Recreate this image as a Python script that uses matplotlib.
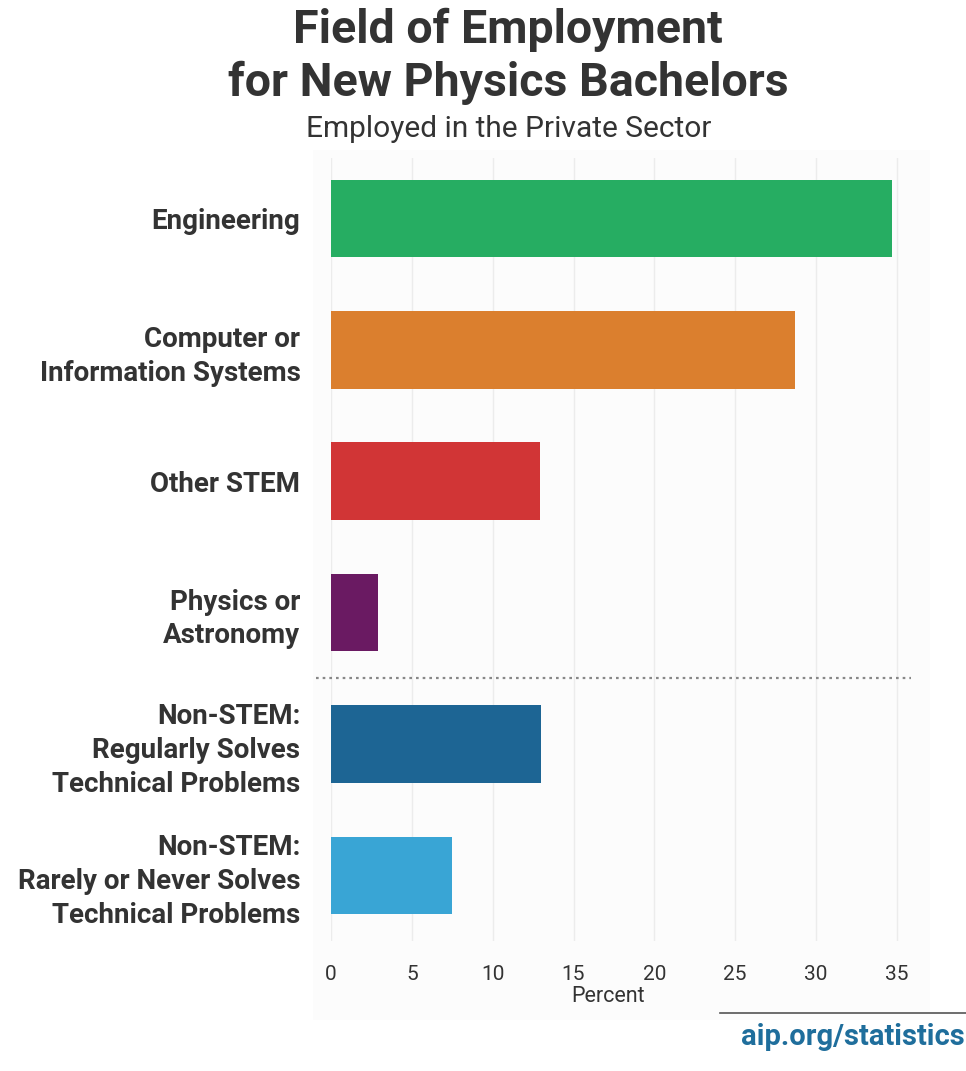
import matplotlib
matplotlib.use("Agg")
import matplotlib.pyplot as plt
from matplotlib.patches import Rectangle
from matplotlib.lines import Line2D

categories = [
    "Engineering",
    "Computer or\nInformation Systems",
    "Other STEM",
    "Physics or\nAstronomy",
    "Non-STEM:\nRegularly Solves\nTechnical Problems",
    "Non-STEM:\nRarely or Never Solves\nTechnical Problems",
]
percent = [34.7, 28.7, 12.9, 2.9, 13.0, 7.5]
bar_colors = ["#26ad62", "#db7f2e", "#d13536", "#6a1a62", "#1d6594", "#39a5d5"]
x_ticks = [0, 5, 10, 15, 20, 25, 30, 35]

plt.rcParams["font.family"] = ["Roboto", "DejaVu Sans"]
TEXT = "#333333"

W, H = 966, 1071
fig = plt.figure(figsize=(W / 100, H / 100), dpi=100)
fig.patch.set_facecolor("white")

# faint panel behind the plotting area
fig.patches.append(Rectangle((313 / W, 1 - 1020 / H), (930 - 313) / W, (1020 - 150) / H,
                             transform=fig.transFigure, facecolor="#fcfcfc",
                             edgecolor="none", zorder=-5))

left, right = 331, 913
top, bottom = 158, 941
ax = fig.add_axes([left / W, 1 - bottom / H, (right - left) / W, (bottom - top) / H])
ax.set_facecolor("none")
ax.set_zorder(2)

y = list(range(len(categories)))
ax.barh(y, percent, height=0.59, color=bar_colors, zorder=3)

ax.set_xlim(0, 36)
ax.set_ylim(5.5, -0.46)
ax.set_xticks(x_ticks)
ax.set_xticklabels([str(t) for t in x_ticks], fontsize=15, color=TEXT)
ax.set_yticks(y)
ax.set_yticklabels(categories, fontsize=20, fontweight="bold", color=TEXT,
                   linespacing=1.32)
ax.tick_params(axis="both", length=0)
ax.tick_params(axis="x", pad=17)
ax.tick_params(axis="y", pad=22)
ax.xaxis.grid(True, color="#ececec", linewidth=1, zorder=0)
for s in ax.spines.values():
    s.set_visible(False)
ax.set_xlabel("Percent", fontsize=15.5, color=TEXT)
ax.xaxis.set_label_coords((608 - left) / (right - left), -0.058)

# separator between STEM and non-STEM fields
ax.plot([-0.95, 35.9], [3.5, 3.5], linestyle=(0, (1.2, 1.8)), color="#888888",
        linewidth=1.6, clip_on=False, zorder=2)

# titles
fig.text(508 / W, 1 - 30 / H, "Field of Employment", ha="center", va="center",
         fontsize=33.5, fontweight="bold", color=TEXT)
fig.text(508 / W, 1 - 83 / H, "for New Physics Bachelors", ha="center", va="center",
         fontsize=33.5, fontweight="bold", color=TEXT)
fig.text(509 / W, 1 - 129 / H, "Employed in the Private Sector", ha="center",
         va="center", fontsize=21.5, color=TEXT)

# source footer
fig.add_artist(Line2D([720 / W, 1.0], [1 - 1013 / H, 1 - 1013 / H],
                      transform=fig.transFigure, color="#555555", linewidth=1.2))
fig.text(965 / W, 1 - 1037 / H, "aip.org/statistics", ha="right", va="center",
         fontsize=21, fontweight="bold", color="#1f6e9c")

fig.savefig("out.png", dpi=100, facecolor="white")
